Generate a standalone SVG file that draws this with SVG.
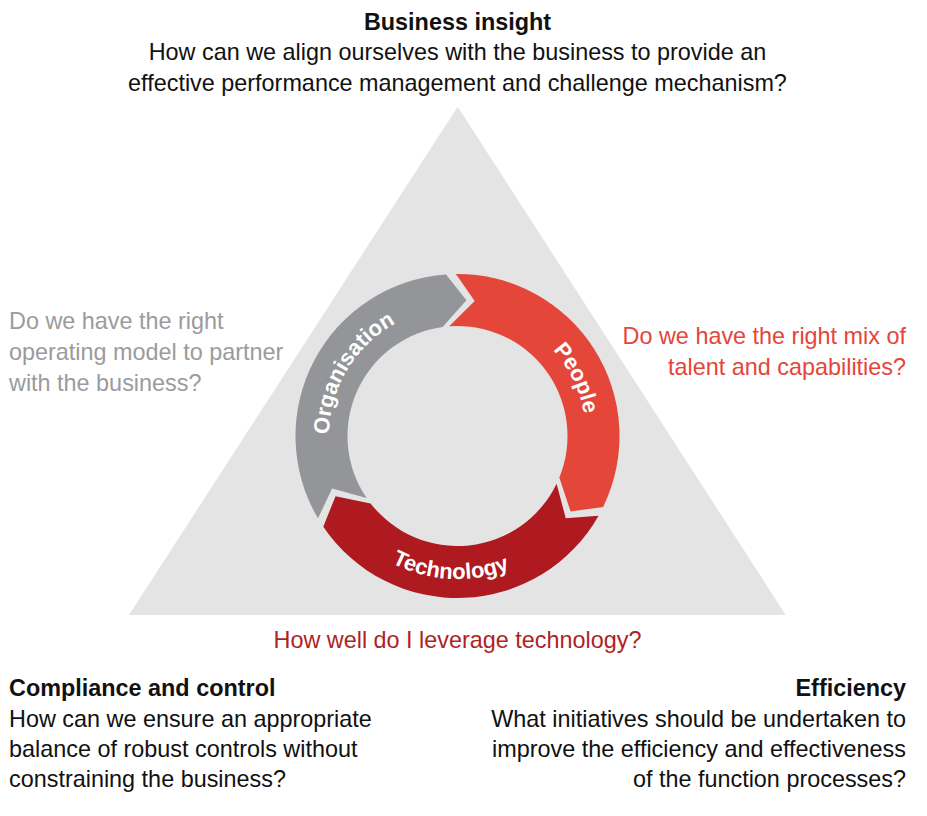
<svg xmlns="http://www.w3.org/2000/svg" width="927" height="816" viewBox="0 0 927 816">
<style>
.t{font-family:"Liberation Sans",Arial,sans-serif;font-size:23.4px;}
.b{font-weight:bold;}
.k{fill:#111;}
.g{fill:#9a9b9d;}
.r{fill:#e4463a;}
.dr{fill:#b01f24;}
.lab{font-family:"Liberation Sans",Arial,sans-serif;font-size:22px;font-weight:bold;fill:#fff;}
</style>
<defs>
<path id="pOrg" d="M345.11,498.30 A128.5,128.5 0 0 1 459.74,307.52"/>
<path id="pPeo" d="M466.46,307.81 A128.5,128.5 0 0 1 564.03,507.86"/>
<path id="pTec" d="M330.09,500.92 A143,143 0 0 0 577.43,513.88"/>
</defs>
<rect width="927" height="816" fill="#fff"/>
<g id="triangle"><polygon points="457.7,106.7 785.7,615 129,615" fill="#e3e4e3"/></g>
<g id="connectors">
<g id="organisation">
<path d="M317.99,518.36 A162,162 0 0 1 446.04,274.41 L466.40,300.29 L442.60,327.01 A110,110 0 0 0 366.61,497.97 L332.08,488.59 Z" fill="#939598"/>
<text class="lab"><textPath href="#pOrg" startOffset="50%" text-anchor="middle">Organisation</textPath></text>
</g>
<g id="people">
<path d="M455.93,274.01 A162,162 0 0 1 603.17,506.88 L570.58,511.56 L559.34,477.59 A110,110 0 0 0 449.28,326.31 L474.66,301.09 Z" fill="#e4463a"/>
<text class="lab"><textPath href="#pPeo" startOffset="50%" text-anchor="middle">People</textPath></text>
</g>
<g id="technology">
<path d="M598.57,515.64 A162,162 0 0 1 323.28,526.72 L335.53,496.15 L370.57,503.40 A110,110 0 0 0 556.61,483.73 L565.76,518.32 Z" fill="#ae1a1f"/>
<text class="lab"><textPath href="#pTec" startOffset="50%" text-anchor="middle">Technology</textPath></text>
</g>
</g>
<g id="business-insight" text-anchor="middle">
<text class="t b k" x="457.5" y="30">Business insight</text>
<text class="t k" x="457.5" y="60">How can we align ourselves with the business to provide an</text>
<text class="t k" x="457.5" y="91">effective performance management and challenge mechanism?</text>
</g>
<g id="organisation-question">
<text class="t g" x="9" y="329">Do we have the right</text>
<text class="t g" x="9" y="360">operating model to partner</text>
<text class="t g" x="9" y="391">with the business?</text>
</g>
<g id="people-question" text-anchor="end">
<text class="t r" x="906" y="344">Do we have the right mix of</text>
<text class="t r" x="906" y="375">talent and capabilities?</text>
</g>
<g id="technology-question">
<text class="t dr" x="457.5" y="648" text-anchor="middle">How well do I leverage technology?</text>
</g>
<g id="compliance">
<text class="t b k" x="9" y="696">Compliance and control</text>
<text class="t k" x="9" y="727">How can we ensure an appropriate</text>
<text class="t k" x="9" y="757">balance of robust controls without</text>
<text class="t k" x="9" y="787">constraining the business?</text>
</g>
<g id="efficiency" text-anchor="end">
<text class="t b k" x="906" y="696">Efficiency</text>
<text class="t k" x="906" y="727">What initiatives should be undertaken to</text>
<text class="t k" x="906" y="757">improve the efficiency and effectiveness</text>
<text class="t k" x="906" y="787">of the function processes?</text>
</g>
</svg>
